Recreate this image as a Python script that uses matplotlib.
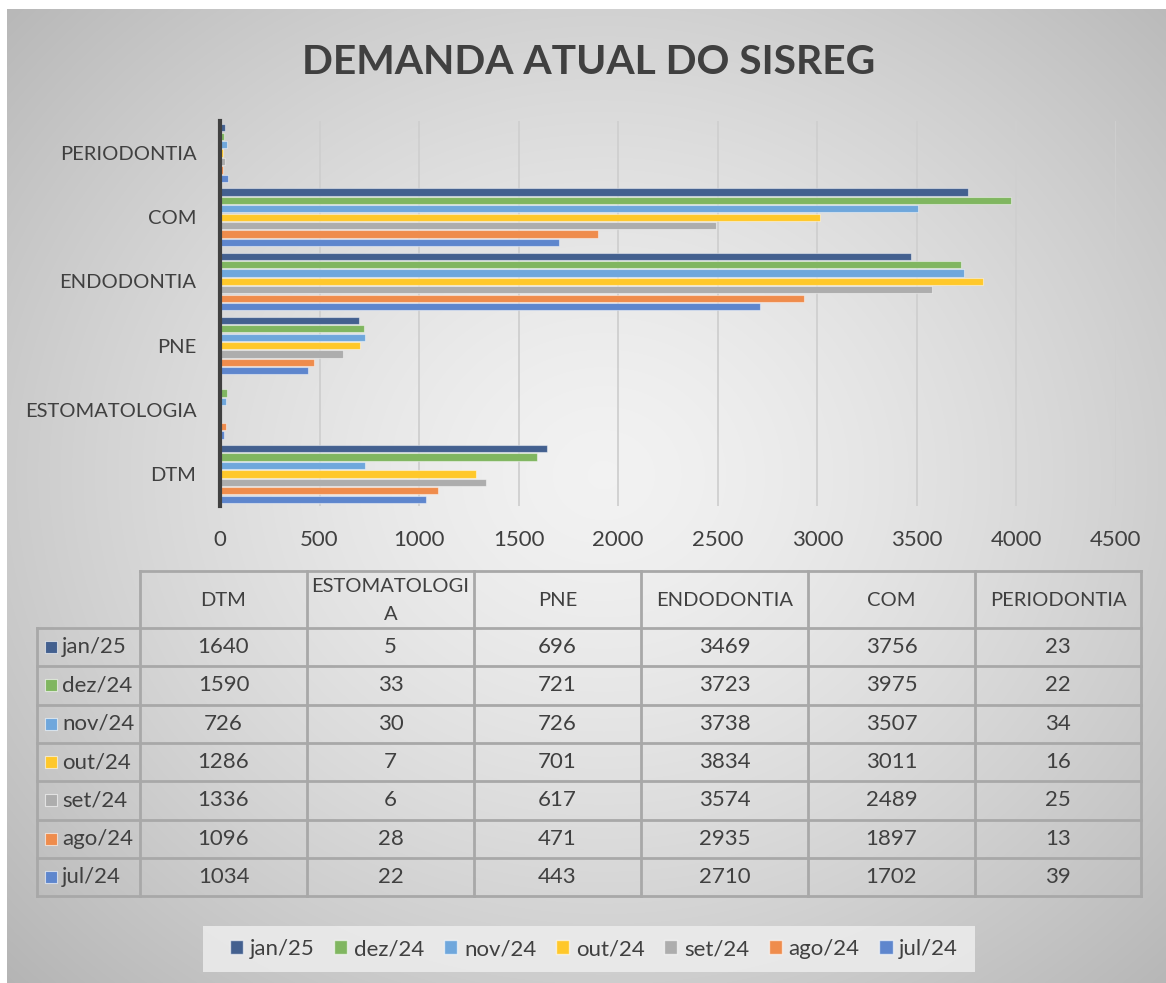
import numpy as np
import matplotlib
matplotlib.use('Agg')
import matplotlib.pyplot as plt
from matplotlib.patches import Rectangle, Patch

plt.rcParams['font.family'] = ['Lato', 'DejaVu Sans']

# dados
categorias = ['DTM', 'ESTOMATOLOGIA', 'PNE', 'ENDODONTIA', 'COM', 'PERIODONTIA']
cabecalho = ['DTM', 'ESTOMATOLOGI\nA', 'PNE', 'ENDODONTIA', 'COM', 'PERIODONTIA']
meses = ['jan/25', 'dez/24', 'nov/24', 'out/24', 'set/24', 'ago/24', 'jul/24']
jan25 = [1640, 5, 696, 3469, 3756, 23]
dez24 = [1590, 33, 721, 3723, 3975, 22]
nov24 = [726, 30, 726, 3738, 3507, 34]
out24 = [1286, 7, 701, 3834, 3011, 16]
set24 = [1336, 6, 617, 3574, 2489, 25]
ago24 = [1096, 28, 471, 2935, 1897, 13]
jul24 = [1034, 22, 443, 2710, 1702, 39]
series = [jan25, dez24, nov24, out24, set24, ago24, jul24]
cores = ['#43608f', '#80b660', '#6fa7dc', '#ffc82a', '#adadad', '#ef8c4c', '#5e86cd']

txt = '#404040'
fs = 14.5     # textos
fn = 16       # numeros
W, H = 1166, 983
fig = plt.figure(figsize=(W / 100, H / 100), dpi=100)

# fundo com gradiente
bg = fig.add_axes([0, 0, 1, 1])
bg.set_zorder(0)
yy, xx = np.mgrid[0:H, 0:W]
r = np.sqrt(((xx - 600) / 700.0) ** 2 + ((yy - 470) / 620.0) ** 2)
val = 0.95 - 0.19 * np.clip(r, 0, 1.3) ** 1.4
img = np.dstack([val, val, val])
bg.imshow(img, extent=(7, W, H, 9), aspect='auto', interpolation='bilinear')
bg.set_xlim(0, W)
bg.set_ylim(H, 0)
bg.axis('off')

# titulo
fig.text(589 / W, 1 - 62 / H, 'DEMANDA ATUAL DO SISREG', ha='center', va='center',
         fontsize=29.3, fontweight='bold', color=txt)

# grafico de barras
ax = fig.add_axes([220 / W, 1 - 506 / H, (1116 - 220) / W, (506 - 121) / H])
ax.set_zorder(2)
ax.patch.set_alpha(0)
y = np.arange(len(categorias))
w = 0.131
for i, (vals, c) in enumerate(zip(series, cores)):
    ax.barh(y + (3 - i) * w, vals, height=w * 0.86, color=c,
            edgecolor=(1, 1, 1, 0.45), linewidth=0.8, zorder=3)
ax.set_xlim(0, 4500)
ax.set_ylim(-0.5, len(categorias) - 0.5)
ax.set_xticks(np.arange(0, 4501, 500))
ax.set_yticks(y)
ax.set_yticklabels(categorias)
ax.grid(axis='x', color='#cfcfcf', linewidth=1.3, zorder=0)
ax.tick_params(length=0, labelcolor=txt)
ax.tick_params(axis='x', pad=17, labelsize=fn)
ax.tick_params(axis='y', pad=17, labelsize=fs)
for s in ['top', 'right', 'bottom']:
    ax.spines[s].set_visible(False)
ax.spines['left'].set_color('#404040')
ax.spines['left'].set_linewidth(3)
ax.spines['left'].set_zorder(4)

# tabela de dados
cx = [37, 140, 307, 474, 641, 808, 975, 1141]
ry = [571, 628] + [628 + 38.3 * (k + 1) for k in range(len(meses))]
lc = '#a8a8a8'
lw = 2
bg.plot([cx[1], cx[-1]], [ry[0], ry[0]], color=lc, lw=lw)
for yv in ry[1:]:
    bg.plot([cx[0], cx[-1]], [yv, yv], color=lc, lw=lw)
bg.plot([cx[0], cx[0]], [ry[1], ry[-1]], color=lc, lw=lw)
for xv in cx[1:]:
    bg.plot([xv, xv], [ry[0], ry[-1]], color=lc, lw=lw)
for j, h in enumerate(cabecalho):
    bg.text((cx[j + 1] + cx[j + 2]) / 2, (ry[0] + ry[1]) / 2 + 1, h, ha='center',
            va='center', fontsize=fs, color=txt, linespacing=1.75)
for i, (m, vals, c) in enumerate(zip(meses, series, cores)):
    yc = (ry[i + 1] + ry[i + 2]) / 2
    bg.add_patch(Rectangle((45, yc - 6), 12, 12, facecolor=c,
                           edgecolor=(1, 1, 1, 0.6), lw=0.8))
    bg.text(62, yc, m, ha='left', va='center', fontsize=16, color=txt)
    for j, v in enumerate(vals):
        bg.text((cx[j + 1] + cx[j + 2]) / 2, yc, str(v), ha='center', va='center',
                fontsize=fn, color=txt)

# legenda
bg.add_patch(Rectangle((203, 926), 772, 46, facecolor='#ededed', edgecolor='none', alpha=0.85))
handles = [Patch(facecolor=c, edgecolor=(1, 1, 1, 0.6), label=m) for m, c in zip(meses, cores)]
leg = fig.legend(handles=handles, ncol=7, loc='center', bbox_to_anchor=(594 / W, 1 - 949 / H),
                 frameon=False, fontsize=16, handlelength=0.6, handleheight=0.6,
                 handletextpad=0.3, columnspacing=0.88)
for t in leg.get_texts():
    t.set_color(txt)

fig.savefig('out.png', dpi=100)
